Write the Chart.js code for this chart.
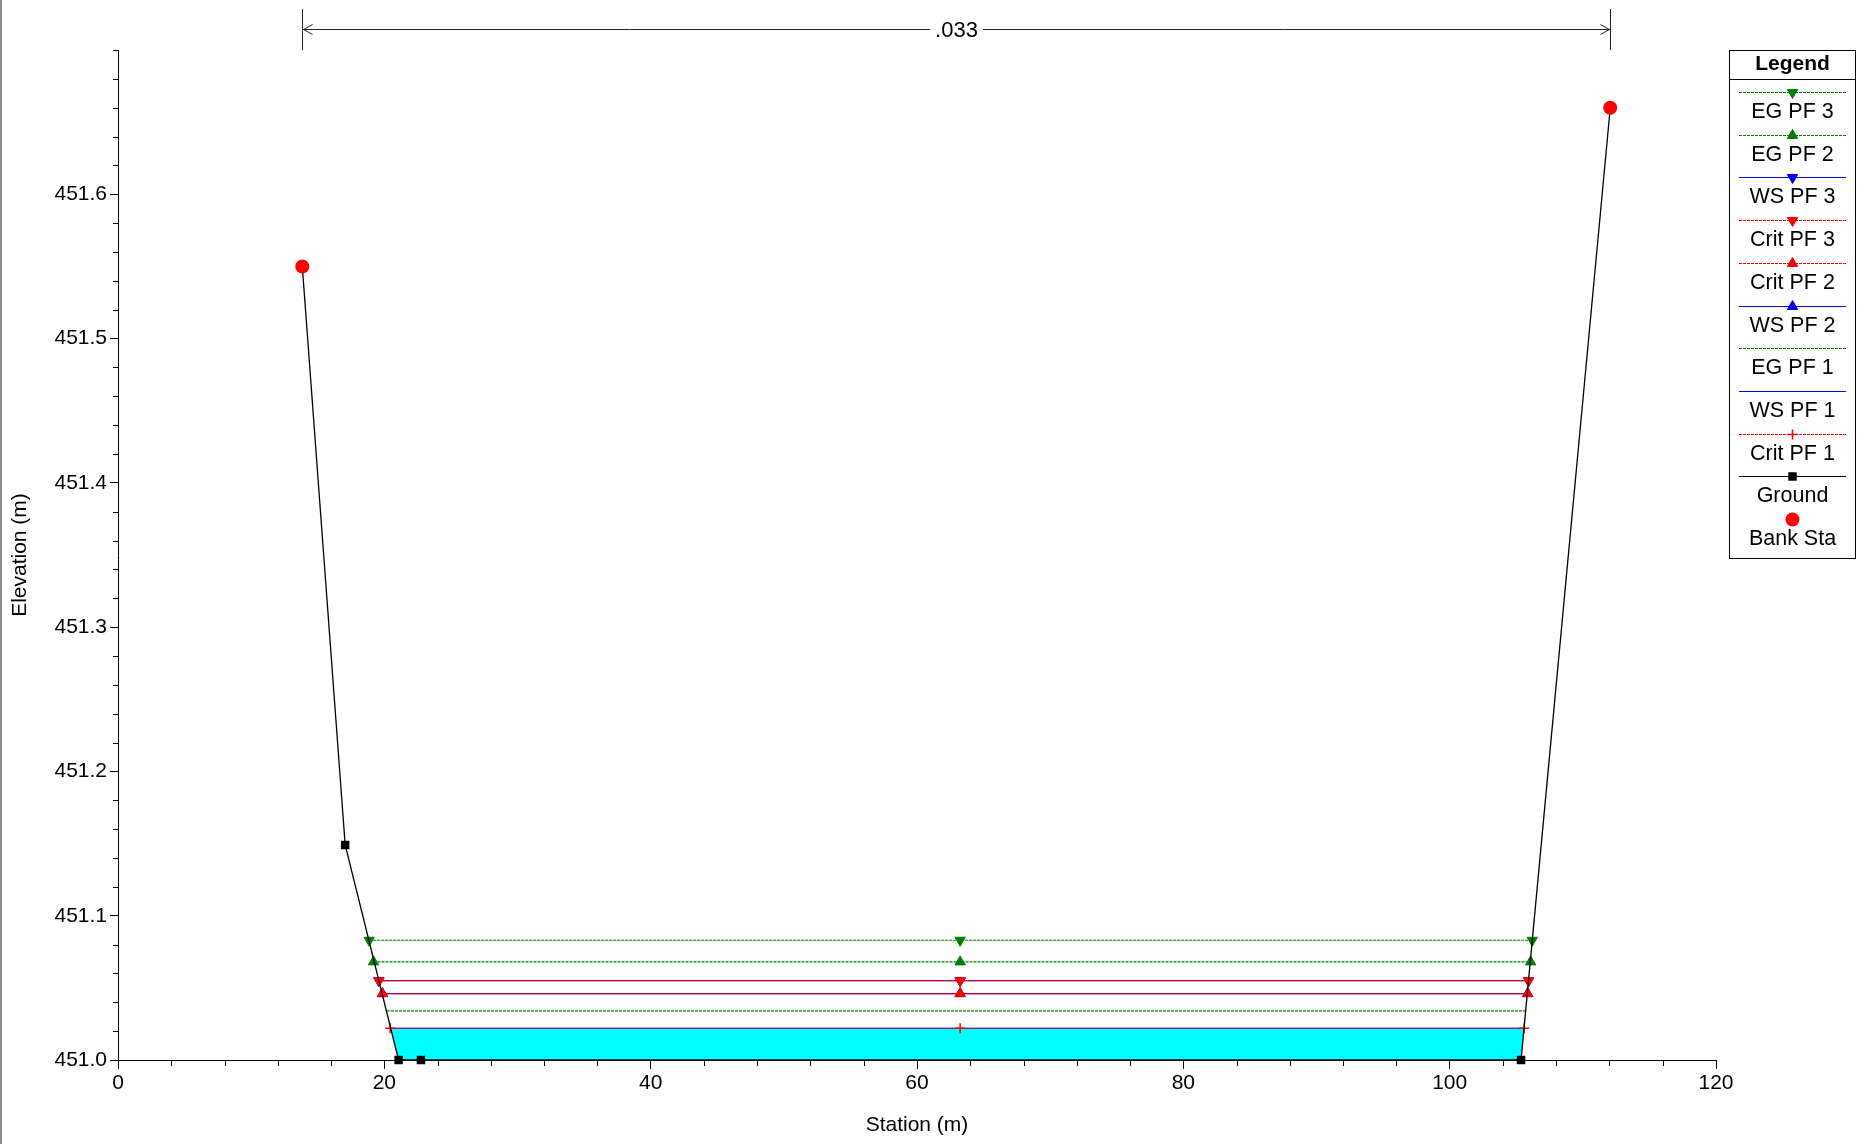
<!DOCTYPE html>
<html>
<head>
<meta charset="utf-8">
<title>Cross Section</title>
<script src="https://cdn.jsdelivr.net/npm/chart.js@4.4.1/dist/chart.umd.min.js"></script>
<style>
  html, body { margin: 0; padding: 0; background: #fff; }
  #wrap { position: relative; width: 1865px; height: 1144px; }
</style>
</head>
<body>
<div id="wrap"><canvas id="xsChart" width="1865" height="1144"></canvas></div>
<script>
// ground geometry (station m, elevation m)
const groundSta = [13.84, 17.06, 21.07, 22.75, 105.36, 112.06];
const groundElev = [451.55, 451.149, 451.0, 451.0, 451.0, 451.66];
const bankSta = [13.84, 112.06];
const bankElev = [451.55, 451.66];

// water surface profiles
const profileNames = ['EG PF 3', 'EG PF 2', 'WS PF 3', 'Crit PF 3', 'Crit PF 2', 'WS PF 2', 'EG PF 1', 'WS PF 1', 'Crit PF 1'];
const profileElev = [451.083, 451.068, 451.055, 451.055, 451.046, 451.046, 451.034, 451.022, 451.022];
const profileLeft = [18.86, 19.19, 19.59, 19.59, 19.86, 19.86, 20.19, 20.44, 20.44];
const profileRight = [106.2, 106.08, 105.93, 105.93, 105.86, 105.86, 105.68, 105.6, 105.6];
const markSta = 63.24;

const mannN = '.033';
const xTicks = [0, 20, 40, 60, 80, 100, 120];
const yTicks = [451.0, 451.1, 451.2, 451.3, 451.4, 451.5, 451.6];

const FONT = "'Liberation Sans', Arial, sans-serif";
const GREEN = '#008000', RED = '#ff0000', BLUE = '#0000ff';

function profileStyle(name) {
    const s = { color: BLUE, dash: [], point: false, rot: 0, order: 5 };
    if (name.startsWith('EG')) { s.color = GREEN; s.dash = [3, 1]; s.order = 4; }
    if (name.startsWith('Crit')) { s.color = RED; s.dash = [3, 1]; s.order = 3; }
    if (name.endsWith('3')) { s.point = 'triangle'; s.rot = 180; }
    if (name.endsWith('2')) { s.point = 'triangle'; }
    if (name === 'Crit PF 1') { s.point = 'cross'; }
    if (name === 'EG PF 1' || name === 'WS PF 1') { s.point = false; }
    return s;
}

const datasets = profileNames.map(function (name, i) {
    const s = profileStyle(name);
    return {
        label: name,
        data: [
            { x: profileLeft[i], y: profileElev[i] },
            { x: markSta, y: profileElev[i] },
            { x: profileRight[i], y: profileElev[i] }
        ],
        borderColor: s.color,
        borderWidth: 1.2,
        borderDash: s.dash,
        pointStyle: s.point || 'circle',
        pointRotation: s.rot,
        pointRadius: s.point ? (s.point === 'cross' ? 5 : 6) : 0,
        pointBackgroundColor: s.color,
        pointBorderColor: s.color,
        pointBorderWidth: s.point === 'cross' ? 1.5 : 1,
        order: s.order,
        clip: false
    };
});

datasets.push({
    label: 'Ground',
    data: groundSta.map((x, i) => ({ x: x, y: groundElev[i] })),
    borderColor: '#000',
    borderWidth: 1.3,
    pointStyle: 'rect',
    pointRadius: 6,
    pointBackgroundColor: '#000',
    pointBorderColor: '#000',
    pointBorderWidth: 0,
    order: 2,
    clip: false
});

datasets.push({
    label: 'Bank Sta',
    data: bankSta.map((x, i) => ({ x: x, y: bankElev[i] })),
    showLine: false,
    pointStyle: 'circle',
    pointRadius: 7,
    pointBackgroundColor: RED,
    pointBorderColor: RED,
    pointBorderWidth: 0,
    order: 1,
    clip: false
});

// water area below WS PF 1, bounded by the ground
const wsIdx = profileNames.indexOf('WS PF 1');
datasets.push({
    label: '',
    hideInLegend: true,
    data: [
        { x: profileLeft[wsIdx], y: profileElev[wsIdx] },
        { x: profileRight[wsIdx], y: profileElev[wsIdx] },
        { x: groundSta[4], y: groundElev[4] },
        { x: groundSta[2], y: groundElev[2] }
    ],
    fill: 'shape',
    backgroundColor: '#00ffff',
    borderColor: 'rgba(0,0,0,0)',
    borderWidth: 0,
    pointRadius: 0,
    order: 10
});

// minor ticks, n-value bracket, legend box, page border
const decorPlugin = {
    id: 'decor',
    afterDraw(chart) {
        const ctx = chart.ctx;
        const xs = chart.scales.x, ys = chart.scales.y;
        ctx.save();

        // left page border
        ctx.fillStyle = '#8a8a8a';
        ctx.fillRect(0, 0, 2, chart.height);

        // minor ticks
        ctx.strokeStyle = '#000';
        ctx.lineWidth = 1;
        ctx.beginPath();
        for (let k = 1; k < 35; k++) {
            if (k % 5 === 0) continue;
            const py = Math.round(ys.getPixelForValue(451 + k * 0.02)) + 0.5;
            ctx.moveTo(xs.left - 5, py); ctx.lineTo(xs.left, py);
        }
        const top = Math.round(ys.getPixelForValue(451.7)) + 0.5;
        ctx.moveTo(xs.left - 5, top); ctx.lineTo(xs.left, top);
        for (let k = 1; k < 30; k++) {
            if (k % 5 === 0) continue;
            const px = Math.round(xs.getPixelForValue(k * 4)) + 0.5;
            ctx.moveTo(px, ys.bottom); ctx.lineTo(px, ys.bottom + 6);
        }
        ctx.stroke();

        // Manning's n bracket between bank stations
        const x1 = Math.round(xs.getPixelForValue(bankSta[0])) + 0.5;
        const x2 = Math.round(xs.getPixelForValue(bankSta[1])) + 0.5;
        const yl = 29.5;
        ctx.strokeStyle = '#222';
        ctx.beginPath();
        ctx.moveTo(x1, 9); ctx.lineTo(x1, 50);
        ctx.moveTo(x2, 9); ctx.lineTo(x2, 50);
        ctx.moveTo(x1, yl); ctx.lineTo(x2, yl);
        ctx.moveTo(x1 + 10, yl - 5); ctx.lineTo(x1 + 1, yl); ctx.lineTo(x1 + 10, yl + 5);
        ctx.moveTo(x2 - 10, yl - 5); ctx.lineTo(x2 - 1, yl); ctx.lineTo(x2 - 10, yl + 5);
        ctx.stroke();
        ctx.font = '22px ' + FONT;
        const tw = ctx.measureText(mannN).width;
        const xm = (x1 + x2) / 2;
        ctx.fillStyle = '#fff';
        ctx.fillRect(xm - tw / 2 - 5, yl - 8, tw + 10, 16);
        ctx.fillStyle = '#000';
        ctx.textAlign = 'center';
        ctx.textBaseline = 'middle';
        ctx.fillText(mannN, xm, yl + 1);

        // legend
        const bx = 1729.5, by = 50.5, bw = 126, bh = 508;
        ctx.strokeStyle = '#000';
        ctx.lineWidth = 1;
        ctx.strokeRect(bx, by, bw, bh);
        ctx.beginPath();
        ctx.moveTo(bx, 79.5); ctx.lineTo(bx + bw, 79.5);
        ctx.stroke();
        const cx = bx + bw / 2;
        ctx.font = 'bold 21px ' + FONT;
        ctx.fillText('Legend', cx, 64);
        ctx.font = '21.5px ' + FONT;

        const items = chart.data.datasets.filter(d => !d.hideInLegend);
        items.forEach(function (d, i) {
            const ly = Math.round(92 + i * 42.7) + 0.5;
            if (d.showLine !== false) {
                ctx.save();
                ctx.strokeStyle = d.borderColor;
                ctx.lineWidth = 1;
                ctx.setLineDash(d.borderDash || []);
                ctx.beginPath();
                ctx.moveTo(1739, ly); ctx.lineTo(1846, ly);
                ctx.stroke();
                ctx.restore();
            }
            if (d.pointRadius > 0) {
                ctx.save();
                ctx.fillStyle = d.pointBackgroundColor;
                ctx.strokeStyle = d.pointBorderColor;
                ctx.lineWidth = d.pointBorderWidth || 1;
                Chart.helpers.drawPoint(ctx, {
                    pointStyle: d.pointStyle,
                    rotation: d.pointRotation || 0,
                    radius: d.pointRadius,
                    borderWidth: d.pointBorderWidth
                }, cx, ly);
                ctx.restore();
            }
            ctx.fillStyle = '#000';
            ctx.fillText(d.label, cx, ly + 19.5);
        });
        ctx.restore();
    }
};

const xsCanvas = document.getElementById('xsChart');
new Chart(xsCanvas.getContext('2d'), {
    type: 'line',
    data: { datasets: datasets },
    options: {
        responsive: false,
        animation: false,
        devicePixelRatio: 1,
        layout: { padding: { top: 50, right: 149, bottom: 0, left: 0 } },
        elements: { line: { tension: 0 } },
        plugins: {
            legend: { display: false },
            tooltip: { enabled: false }
        },
        scales: {
            x: {
                type: 'linear',
                min: 0,
                max: 120,
                afterBuildTicks: s => { s.ticks = xTicks.map(v => ({ value: v })); },
                afterFit: s => { s.height = 84; },
                ticks: {
                    color: '#000',
                    font: { family: FONT, size: 21 },
                    padding: 2,
                    maxRotation: 0,
                    callback: v => String(v)
                },
                grid: { drawOnChartArea: false, tickLength: 9, color: '#000' },
                border: { color: '#000', width: 1 },
                title: {
                    display: true,
                    text: 'Station (m)',
                    color: '#000',
                    font: { family: FONT, size: 21 },
                    padding: { top: 0, bottom: 6 }
                }
            },
            y: {
                type: 'linear',
                min: 451.0,
                max: 451.7,
                afterBuildTicks: s => { s.ticks = yTicks.map(v => ({ value: v })); },
                afterFit: s => { s.width = 118; },
                ticks: {
                    color: '#000',
                    font: { family: FONT, size: 21 },
                    padding: 3,
                    callback: v => Number(v).toFixed(1)
                },
                grid: { drawOnChartArea: false, tickLength: 8, color: '#000' },
                border: { color: '#000', width: 1 },
                title: {
                    display: true,
                    text: 'Elevation (m)',
                    color: '#000',
                    font: { family: FONT, size: 21 },
                    padding: { top: 8, bottom: 0 }
                }
            }
        }
    },
    plugins: [decorPlugin]
});
</script>
</body>
</html>
